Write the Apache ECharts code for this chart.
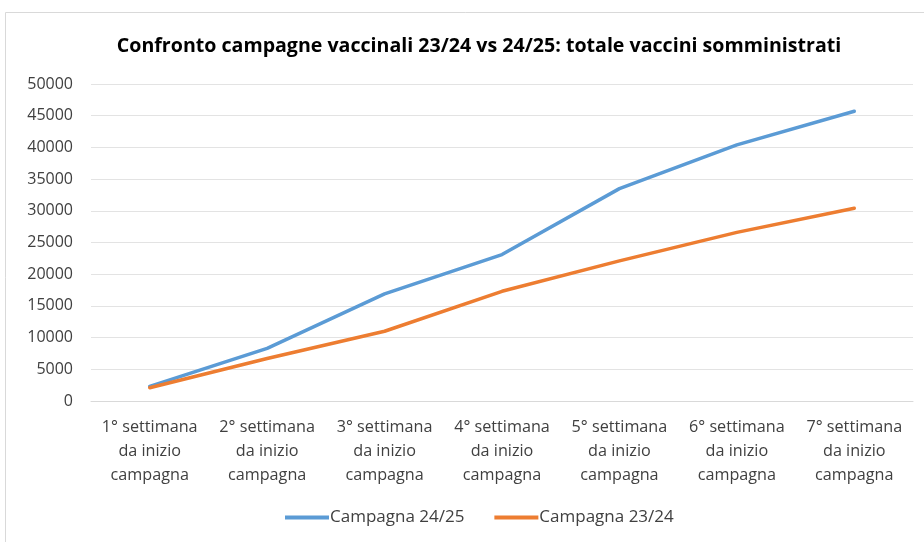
<!DOCTYPE html>
<html>
<head>
<meta charset="utf-8">
<script src="https://cdn.jsdelivr.net/npm/echarts@6/dist/echarts.min.js"></script>
<style>
    html, body { margin: 0; padding: 0; background: #fff; }
    #chartDiv { width: 924px; height: 542px; }
</style>
</head>
<body>
<div id="chartDiv"></div>
<script>
    // dati
    var categorie = [
        "1° settimana\nda inizio\ncampagna",
        "2° settimana\nda inizio\ncampagna",
        "3° settimana\nda inizio\ncampagna",
        "4° settimana\nda inizio\ncampagna",
        "5° settimana\nda inizio\ncampagna",
        "6° settimana\nda inizio\ncampagna",
        "7° settimana\nda inizio\ncampagna"
    ];
    var campagna2425 = [2300, 8300, 16900, 23100, 33500, 40400, 45700];
    var campagna2324 = [2100, 6700, 11000, 17300, 22100, 26600, 30400];

    var font = "'Open Sans', sans-serif";

    var chart = echarts.init(document.getElementById('chartDiv'), null, { renderer: 'canvas' });
    chart.setOption({
        animation: false,
        backgroundColor: '#fff',
        title: {
            text: 'Confronto campagne vaccinali 23/24 vs 24/25: totale vaccini somministrati',
            left: 474, top: 31, textAlign: 'center',
            textStyle: { fontFamily: font, fontSize: 19.6, fontWeight: 'bold', color: '#000' }
        },
        graphic: [{
            type: 'rect',
            shape: { x: 5.5, y: 12.5, width: 940, height: 560 },
            style: { fill: 'none', stroke: '#d9d9d9', lineWidth: 1 },
            silent: true
        }],
        legend: {
            bottom: 11, left: 280,
            itemWidth: 44, itemHeight: 4, itemGap: 30,
            icon: 'rect',
            textStyle: { fontFamily: font, fontSize: 17, color: '#404040', padding: [0, 0, 0, -4] },
            data: ['Campagna 24/25', 'Campagna 23/24']
        },
        grid: { left: 91, right: 11, top: 84, bottom: 141, containLabel: false },
        xAxis: {
            type: 'category',
            data: categorie,
            boundaryGap: true,
            axisLine: { lineStyle: { color: '#d9d9d9' } },
            axisTick: { show: false },
            axisLabel: {
                interval: 0, margin: 14, lineHeight: 24,
                fontFamily: font, fontSize: 16.2, color: '#404040'
            }
        },
        yAxis: {
            type: 'value',
            min: 0, max: 50000, interval: 5000,
            axisLine: { show: false },
            axisTick: { show: false },
            splitLine: { lineStyle: { color: '#e3e3e3' } },
            axisLabel: {
                margin: 18, fontFamily: font, fontSize: 16, color: '#404040',
                formatter: function (v) { return String(v); }
            }
        },
        series: [{
            name: 'Campagna 24/25', type: 'line', data: campagna2425,
            symbol: 'none', color: '#5b9bd5',
            lineStyle: { width: 3.5, cap: 'round', join: 'round' }
        }, {
            name: 'Campagna 23/24', type: 'line', data: campagna2324,
            symbol: 'none', color: '#ed7d31',
            lineStyle: { width: 3.5, cap: 'round', join: 'round' }
        }]
    });
</script>
</body>
</html>
